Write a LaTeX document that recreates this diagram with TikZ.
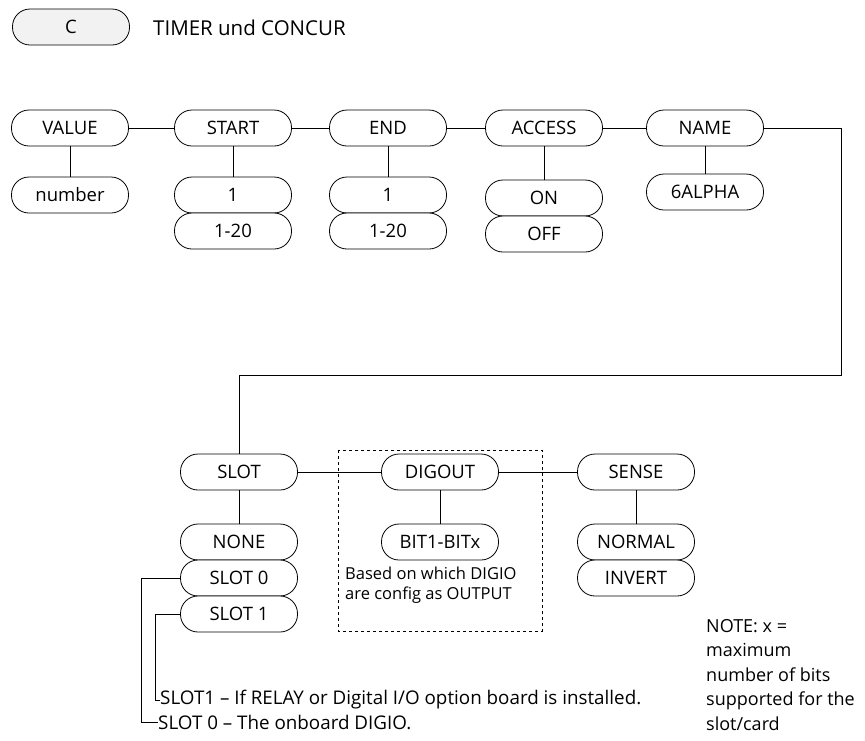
\documentclass[tikz,border=0pt]{standalone}
\usepackage{fontspec}
\setmainfont{Open Sans}
\begin{document}
\begin{tikzpicture}[x=1pt,y=-1pt,
  every node/.style={font=\fontsize{18.5}{22}\selectfont},
  pill/.style={draw, line width=0.8pt, rounded corners=17.5pt, minimum width=117pt, minimum height=36pt, inner sep=0pt, fill=white},
  ln/.style={line width=0.8pt},
  txt/.style={inner sep=0pt, anchor=west}]
\useasboundingbox (0,0) rectangle (865,740);
% header
\node[pill, fill=gray!10] (c) at (71,27) {C};
\node[txt, font=\fontsize{20.5}{24}\selectfont] (title) at (153,28) {TIMER und CONCUR};
% top row
\node[pill] (value) at (70,128) {VALUE};
\node[pill] (start) at (233,128) {START};
\node[pill] (end) at (388,128) {END};
\node[pill] (access) at (544,128) {ACCESS};
\node[pill] (name) at (705,128) {NAME};
\node[pill] (number) at (70,195) {number};
\node[pill] (s1) at (233,195) {1};
\node[pill] (s20) at (233,231) {1-20};
\node[pill] (e1) at (388,195) {1};
\node[pill] (e20) at (388,231) {1-20};
\node[pill] (on) at (544,198) {ON};
\node[pill] (off) at (544,234) {OFF};
\node[pill] (alpha) at (705,192) {6ALPHA};
\draw[ln] (value.east) -- (start.west);
\draw[ln] (start.east) -- (end.west);
\draw[ln] (end.east) -- (access.west);
\draw[ln] (access.east) -- (name.west);
\draw[ln] (value.south) -- (number.north);
\draw[ln] (start.south) -- (s1.north);
\draw[ln] (end.south) -- (e1.north);
\draw[ln] (access.south) -- (on.north);
\draw[ln] (name.south) -- (alpha.north);
% bottom row
\node[pill] (slot) at (239,472) {SLOT};
\node[pill] (digout) at (440,472) {DIGOUT};
\node[pill] (sense) at (636,472) {SENSE};
\node[pill] (none) at (239,542) {NONE};
\node[pill] (slot0) at (239,578) {SLOT 0};
\node[pill] (slot1) at (239,614) {SLOT 1};
\node[pill] (bits) at (440,542) {BIT1-BITx};
\node[pill] (normal) at (636,542) {NORMAL};
\node[pill] (invert) at (636,578) {INVERT};
\coordinate (r1) at (841,375);
\draw[ln] (name.east) -| (r1) -| (slot.north);
\draw[ln] (slot.east) -- (digout.west);
\draw[ln] (digout.east) -- (sense.west);
\draw[ln] (slot.south) -- (none.north);
\draw[ln] (digout.south) -- (bits.north);
\draw[ln] (sense.south) -- (normal.north);
\draw[ln, dashed] (338,450) rectangle (542,631);
\node[inner sep=0pt, anchor=north west, align=left, font=\fontsize{16.5}{19.5}\selectfont] (based) at (345,567) {Based on which DIGIO\\are config as OUTPUT};
% slot notes
\node[txt, font=\fontsize{18.8}{22}\selectfont] (t1) at (160,700) {SLOT1 – If RELAY or Digital I/O option board is installed.};
\node[txt, font=\fontsize{18.8}{22}\selectfont] (t0) at (158,722) {SLOT 0 – The onboard DIGIO.};
\coordinate (k1) at (155,614);
\coordinate (k0) at (141,578);
\draw[ln] (slot1.west) -- (k1) |- (t1.west);
\draw[ln] (slot0.west) -- (k0) |- (t0.west);
% note
\node[inner sep=0pt, anchor=north west, align=left, font=\fontsize{18}{24.5}\selectfont] (note) at (706,619) {NOTE: x =\\maximum\\number of bits\\supported for the\\slot/card};
\end{tikzpicture}
\end{document}
